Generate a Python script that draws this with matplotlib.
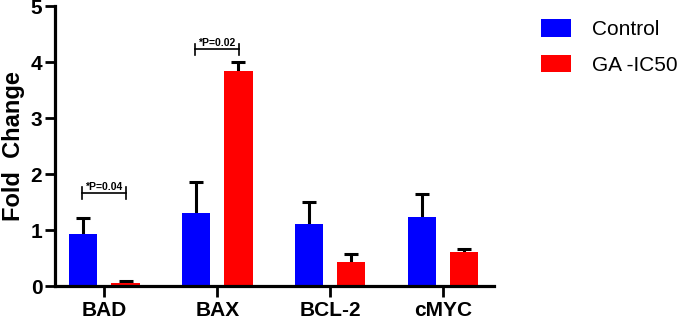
import numpy as np
import matplotlib
matplotlib.use('Agg')
import matplotlib.pyplot as plt

plt.rcParams['font.family'] = ['Liberation Sans', 'DejaVu Sans']

genes = ['BAD', 'BAX', 'BCL-2', 'cMYC']
control = [0.93, 1.30, 1.11, 1.23]
control_err = [0.28, 0.56, 0.39, 0.41]
ga = [0.05, 3.84, 0.43, 0.61]
ga_err = [0.04, 0.16, 0.14, 0.05]
sig_labels = ['*P=0.04', '*P=0.02']
sig_heights = [1.66, 4.23]

fig = plt.figure(figsize=(6.85, 3.21), dpi=100)
ax = fig.add_axes([0.080, 0.109, 0.641, 0.872])

x = np.arange(len(genes))
w = 0.25
off = 0.187
ekw = dict(elinewidth=2.2, capthick=2.2, ecolor='black', capsize=5, fmt='none', zorder=1)
ax.bar(x - off, control, w, color='#0000ff', label='Control', zorder=2)
eb1 = ax.errorbar(x - off, control, yerr=[np.zeros(4), control_err], **ekw)
ax.bar(x + off, ga, w, color='#ff0000', label='GA -IC50', zorder=2)
eb2 = ax.errorbar(x + off, ga, yerr=[np.zeros(4), ga_err], **ekw)
# only the upper cap, like the original
for eb in (eb1, eb2):
    eb[1][0].set_visible(False)

# significance brackets
for i, (lab, h) in enumerate(zip(sig_labels, sig_heights)):
    x0, x1 = i - 0.2, i + 0.19
    ax.plot([x0, x1], [h, h], color='black', lw=1.2, zorder=4)
    ax.plot([x0, x0], [h - 0.1, h + 0.1], color='black', lw=1.2, zorder=4)
    ax.plot([x1, x1], [h - 0.1, h + 0.1], color='black', lw=1.2, zorder=4)
    ax.text((x0 + x1) / 2, h + 0.02, lab, ha='center', va='bottom',
            fontsize=7.5, fontweight='bold')

ax.set_xlim(-0.44, 3.45)
ax.set_ylim(0, 5)
ax.set_yticks(range(6))
ax.set_xticks(x)
ax.set_xticklabels(genes, fontsize=15, fontweight='bold')
for t in ax.get_yticklabels():
    t.set_fontsize(15)
    t.set_fontweight('bold')
ax.set_ylabel('Fold  Change', fontsize=17, fontweight='bold', labelpad=4)

for s in ['top', 'right']:
    ax.spines[s].set_visible(False)
for s in ['left', 'bottom']:
    ax.spines[s].set_linewidth(2.3)
ax.tick_params(axis='y', width=2, length=7, pad=2)
ax.tick_params(axis='x', width=2, length=8, pad=3)

ax.legend(loc='upper left', bbox_to_anchor=(1.064, 1.02), frameon=False,
          fontsize=15, handlelength=1.45, handleheight=0.9,
          labelspacing=0.75, handletextpad=1.0)

fig.savefig('out.png', dpi=100)
